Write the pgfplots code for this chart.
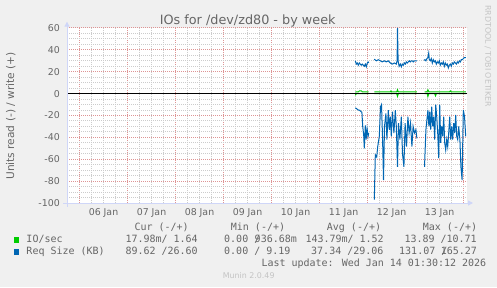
\documentclass[border=0pt]{standalone}
\usepackage{fontspec}
\setmainfont{DejaVu Sans}
\newfontfamily\monofont{DejaVu Sans Mono}
\usepackage{pgfplots}
\pgfplotsset{compat=1.18}
\usetikzlibrary{arrows.meta}
\definecolor{bgc}{HTML}{F0F0F0}
\definecolor{fontc}{HTML}{666666}
\definecolor{axisc}{HTML}{CFD6F8}
\definecolor{mgrid}{HTML}{DE9494}
\definecolor{ngrid}{HTML}{CCCCCC}
\definecolor{iog}{HTML}{00CC00}
\definecolor{reqb}{HTML}{0066B3}
\definecolor{wm}{HTML}{C4C4C4}
\begin{document}
\begin{tikzpicture}[x=1bp,y=1bp]
\fill[bgc] (0,0) rectangle (497,287);
\useasboundingbox (0,0) rectangle (497,287);
\begin{axis}[
  at={(67bp,84bp)}, anchor=south west,
  scale only axis, width=400bp, height=175bp,
  xmin=-6.25, xmax=193.75, ymin=-100, ymax=60,
  axis background/.style={fill=white},
  axis line style={draw=none},
  xtick={0,24,...,192}, xticklabels={},
  minor x tick num=3,
  extra x ticks={12,36,...,180},
  extra x tick labels={06 Jan,07 Jan,08 Jan,09 Jan,10 Jan,11 Jan,12 Jan,13 Jan},
  extra x tick style={grid=none},
  ytick={-100,-80,...,60},
  yticklabels={-100,-80,-60,-40,-20,0,20,40,60},
  minor y tick num=3,
  grid=both,
  major grid style={draw=mgrid, line width=1bp, dash pattern=on 1bp off 1bp},
  minor grid style={draw=ngrid, line width=1bp, dash pattern=on 1bp off 1bp},
  tick style={draw=none},
  xticklabel style={font=\fontsize{9.4bp}{11bp}\selectfont, text=fontc, anchor=base, inner sep=0pt, yshift=-12bp},
  yticklabel style={font=\fontsize{9.4bp}{11bp}\selectfont, text=fontc, anchor=east, inner sep=0pt, xshift=-7bp},
  unbounded coords=jump,
]
% IO/sec read (negative)
\addplot[iog, line width=1bp] coordinates {
(137.9,-1.5)(138.4,-0.1)(144.6,-0.1)(145,nan)
(147.4,-0.1)(158.6,-0.1)(159.0,-2.5)(159.4,-0.1)(168.7,-0.1)(170,nan)
(172.5,-0.1)(173.9,-0.1)(174.2,-2.5)(174.6,-0.1)(177.6,-0.1)(178.0,-2)(178.4,-0.1)(193.2,-0.1)
};
% IO/sec write
\addplot[iog, line width=1bp] coordinates {
(137.9,1.5)(139.4,1.6)(140.0,2.6)(140.9,2.6)(141.4,1.6)(144.6,1.6)(145,nan)
(147.4,1.5)(155.4,1.5)(155.7,2.4)(156.1,1.5)(158.6,1.5)(159.0,3.5)(159.4,1.5)(168.7,1.6)(170,nan)
(172.5,1.5)(173.7,1.5)(174.2,3.5)(174.7,1.5)(185.0,1.5)(185.4,2.5)(185.9,1.5)(193.2,1.6)
};
% Req size read (negative)
\addplot[reqb, line width=1bp] coordinates {
(137.9,-13)(138.7,-14)(139.4,-15)(139.9,-15)(140.8,-16.5)(141.2,-17)(141.6,-30)(142.1,-38)(142.4,-50)(142.9,-29)(143.3,-42)(143.8,-32)(144.3,-39)(144.6,-36)
(145.5,nan)
(147.4,-97)(147.9,-56)(148.6,-58)(149.1,-48.5)(149.9,-39)(150.5,-12)(151.0,-10)(151.5,-39)(152.0,-79)(152.5,-30)(153.2,-18)(153.7,-42)(154.4,-15)(154.9,-33)(155.4,-21)(155.9,-39)(156.5,-16.5)(157.2,-36)(157.9,-15)(158.4,-30)(159.0,-67)(159.5,-27)(160.2,-42)(160.9,-21)(161.5,-55)(162.2,-67)(162.8,-27)(163.5,-48.5)(164.2,-21)(164.8,-36)(165.5,-27)(166.2,-48.5)(166.8,-30)(167.5,-36)(168.2,-33)(168.7,-41)
(170,nan)
(172.5,-67)(173.2,-33)(173.7,-24)(174.2,-15)(174.7,-30)(175.1,-16.5)(175.6,-33)(176.1,-12)(176.6,-30)(177.1,-21)(177.6,-42)(178.1,-10)(178.6,-21)(179.1,-36)(179.6,-59)(180.1,-10)(180.6,-45)(181.1,-30)(181.6,-39)(182.1,-21)(182.6,-45)(183.1,-51.5)(183.6,-42)(184.1,-48.5)(184.6,-36)(185.1,-21)(185.6,-42)(186.1,-30)(186.6,-42)(187.1,-27)(187.6,-36)(188.1,-19.5)(188.6,-39)(189.1,-42)(189.6,-30)(190.2,-42)(190.7,-67)(191.3,-79)(191.9,-15)(192.5,-21)(193.1,-39)
};
% Req size write
\addplot[reqb, line width=1bp] coordinates {
(137.9,30)(138.4,27)(138.9,28)(139.4,26)(139.9,28)(140.4,27)(140.9,26)(141.4,27)(141.9,26)(142.4,25)(142.9,27)(143.4,24.5)(143.9,28)(144.3,29)(144.6,28)
(145.5,nan)
(147.4,31.5)(148.4,30)(149.4,31)(150.4,30)(151.4,29)(152.4,30)(153.4,29)(154.4,30)(155.4,28)(156.4,27)(157.4,28)(158.4,27)(158.8,30)(159.0,60)(159.3,30)(159.8,25)(160.4,27)(160.9,24.5)(161.4,27)(161.9,26)(162.4,28)(162.9,27)(163.4,29)(163.9,28)(164.4,29)(164.9,30)(165.4,29)(165.9,30)(166.4,30)(166.9,29)(167.4,30)(167.9,30)(168.4,30)(168.7,30)
(170,nan)
(172.2,30.5)(172.7,31)(173.2,30)(173.7,32)(174.2,33)(174.6,37)(174.9,31)(175.4,30)(175.9,32)(176.4,28)(176.9,31)(177.4,29)(177.9,30)(178.4,27)(178.9,29)(179.4,28)(179.9,30)(180.4,26)(180.9,28)(181.4,27)(181.9,29)(182.4,25)(182.9,28)(183.4,26)(183.9,27)(184.4,23.5)(184.9,26)(185.4,27)(185.9,25)(186.4,28)(186.9,27)(187.4,29)(187.9,28)(188.4,27)(188.9,29)(189.4,28)(189.9,30)(190.4,29)(190.9,31)(191.4,31)(191.9,32)(192.4,33)(193.2,33)
};
% zero line
\addplot[black, line width=1bp] coordinates {(-6.25,0)(193.75,0)};
\end{axis}
% axes with arrows
\draw[axisc, line width=1bp, -{Triangle[length=5bp,width=5bp]}] (63,84) -- (473,84);
\draw[axisc, line width=1bp, -{Triangle[length=5bp,width=5bp]}] (67,80.3) -- (67,265.3);
% title and labels
\node[anchor=base, font=\fontsize{12.8bp}{14bp}\selectfont, text=fontc] at (247.7,263) {IOs for /dev/zd80 - by week};
\node[rotate=90, font=\fontsize{10.6bp}{12bp}\selectfont, text=fontc] at (10.8,171) {Units read (-) / write (+)};
\node[rotate=-90, anchor=west, inner sep=0pt, font=\fontsize{7.9bp}{9bp}\selectfont, text=wm] at (488,282) {RRDTOOL / TOBI OETIKER};
% legend
\begin{scope}[every node/.style={anchor=base west, inner sep=0pt, font=\monofont\fontsize{10bp}{12bp}\selectfont, text=fontc}]
\node at (134.3,56.3) {Cur (-/+)};
\node at (230.7,56.3) {Min (-/+)};
\node at (326.7,56.3) {Avg (-/+)};
\node at (422.7,56.3) {Max (-/+)};
\node at (26.3,44.3) {IO/sec};
\node at (125.3,44.3) {17.98m/ 1.64};
\node at (224,44.3) {0.00 /\kern-5.6bp 936.68m};
\node at (305.3,44.3) {143.79m/ 1.52};
\node at (404.3,44.3) {13.89 /10.71};
\node at (26.3,32.3) {Req Size (KB)};
\node at (125.3,32.3) {89.62 /26.60};
\node at (224,32.3) {0.00 / 9.19};
\node at (311,32.3) {37.34 /29.06};
\node at (399,32.3) {131.07 /\kern-6.5bp 165.27};
\node at (261.3,20.7) {Last update: Wed Jan 14 01:30:12 2026};
\end{scope}
\fill[iog] (13.7,44.3) rectangle (19.4,50);
\fill[reqb] (13.7,32.3) rectangle (19.4,38);
\node[anchor=base, inner sep=0pt, font=\fontsize{7.9bp}{9bp}\selectfont, text=wm] at (248.7,8.3) {Munin 2.0.49};
\end{tikzpicture}
\end{document}
